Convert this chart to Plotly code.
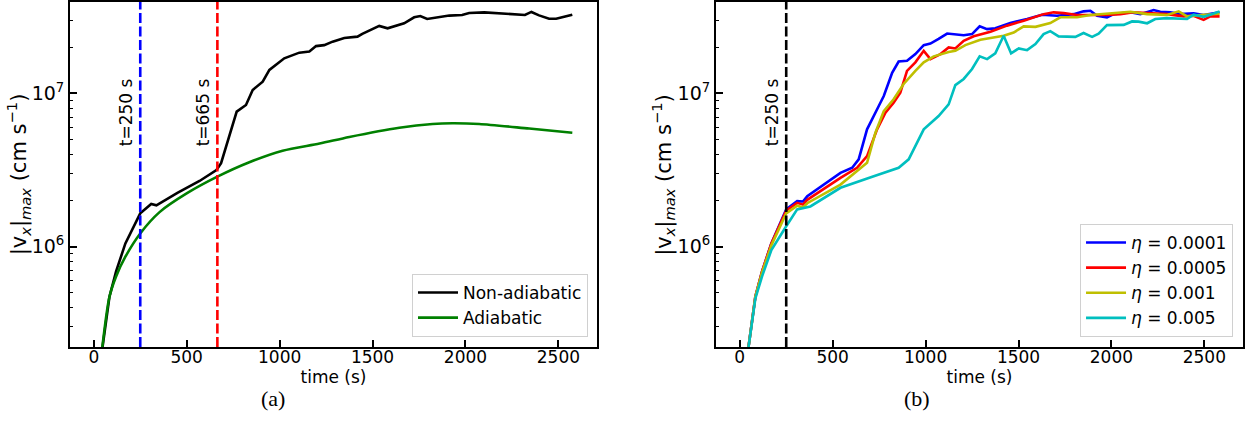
import plotly.graph_objects as go

# ---------------- data ----------------
# Panel (a)
t_nonad = [40, 84, 120, 170, 250, 309, 337, 450, 569, 660, 685, 769, 819, 855, 909, 945,
           1025, 1106, 1160, 1196, 1240, 1285, 1348, 1419, 1445, 1536, 1581, 1670, 1724,
           1757, 1794, 1913, 1982, 2020, 2101, 2181, 2251, 2320, 2355, 2396, 2450, 2488, 2575]
v_nonad = [1.92e5, 4.70e5, 6.9e5, 1.05e6, 1.65e6, 1.90e6, 1.86e6, 2.24e6, 2.68e6, 3.16e6,
           3.50e6, 7.59e6, 8.39e6, 1.05e7, 1.19e7, 1.42e7, 1.69e7, 1.84e7, 1.87e7, 2.03e7,
           2.06e7, 2.17e7, 2.29e7, 2.34e7, 2.44e7, 2.75e7, 2.65e7, 2.86e7, 3.13e7, 3.19e7,
           3.05e7, 3.21e7, 3.24e7, 3.34e7, 3.37e7, 3.32e7, 3.25e7, 3.24e7, 3.39e7, 3.22e7,
           3.06e7, 3.06e7, 3.25e7]

t_adiab = [40, 84, 120, 170, 250, 354, 504, 665, 837, 1016, 1215, 1375, 1644, 1823,
           1930, 2074, 2343, 2575]
v_adiab = [1.92e5, 4.70e5, 6.4e5, 8.6e5, 1.22e6, 1.68e6, 2.24e6, 2.86e6, 3.55e6, 4.22e6,
           4.70e6, 5.19e6, 5.96e6, 6.31e6, 6.38e6, 6.31e6, 5.89e6, 5.53e6]

# Panel (b)
t_eta1 = [40, 84, 120, 170, 250, 309, 340, 363, 542, 605, 640, 685, 748, 775, 820, 855, 900,
          945, 990, 1026, 1070, 1116, 1205, 1250, 1291, 1331, 1375, 1456, 1546, 1627, 1707,
          1797, 1850, 1887, 1923, 1976, 2012, 2102, 2155, 2227, 2263, 2317, 2371, 2442, 2496,
          2532, 2582]
v_eta1 = [1.92e5, 4.73e5, 6.9e5, 1.05e6, 1.75e6, 1.98e6, 1.97e6, 2.13e6, 3.03e6, 3.27e6,
          3.71e6, 5.82e6, 8.26e6, 9.6e6, 1.36e7, 1.61e7, 1.63e7, 1.80e7, 2.06e7, 2.11e7,
          2.26e7, 2.45e7, 2.39e7, 2.43e7, 2.73e7, 2.62e7, 2.65e7, 2.87e7, 3.05e7, 3.25e7,
          3.20e7, 3.28e7, 3.42e7, 3.45e7, 3.20e7, 3.12e7, 3.28e7, 3.37e7, 3.28e7, 3.49e7,
          3.40e7, 3.37e7, 3.28e7, 3.32e7, 3.24e7, 3.30e7, 3.37e7]

t_eta2 = [40, 84, 120, 170, 250, 309, 340, 363, 542, 631, 685, 739, 784, 828, 864, 900, 945,
          990, 1026, 1080, 1124, 1160, 1205, 1259, 1349, 1438, 1528, 1635, 1689, 1743, 1815,
          1887, 1976, 2048, 2119, 2192, 2299, 2388, 2442, 2496, 2532, 2582]
v_eta2 = [1.92e5, 4.73e5, 6.9e5, 1.05e6, 1.72e6, 1.93e6, 1.88e6, 2.02e6, 2.81e6, 3.27e6,
          3.89e6, 5.82e6, 7.48e6, 8.69e6, 1.01e7, 1.40e7, 1.59e7, 1.89e7, 1.67e7, 1.80e7,
          1.99e7, 1.96e7, 2.20e7, 2.35e7, 2.52e7, 2.76e7, 2.97e7, 3.28e7, 3.37e7, 3.33e7,
          3.24e7, 3.24e7, 3.24e7, 3.28e7, 3.37e7, 3.33e7, 3.28e7, 3.17e7, 3.20e7, 3.01e7,
          3.17e7, 3.17e7]

t_eta3 = [40, 84, 120, 170, 250, 309, 340, 363, 542, 640, 685, 730, 775, 828, 882, 945, 990,
          1044, 1124, 1160, 1214, 1295, 1349, 1420, 1474, 1528, 1591, 1671, 1725, 1815, 1887,
          2012, 2102, 2192, 2299, 2362, 2407, 2478, 2582]
v_eta3 = [1.92e5, 4.73e5, 6.8e5, 1.02e6, 1.65e6, 1.85e6, 1.80e6, 1.92e6, 2.54e6, 3.18e6,
          3.52e6, 5.53e6, 7.65e6, 9.14e6, 1.15e7, 1.40e7, 1.59e7, 1.74e7, 1.86e7, 1.89e7,
          2.06e7, 2.23e7, 2.29e7, 2.37e7, 2.49e7, 2.73e7, 2.71e7, 2.87e7, 3.13e7, 3.13e7,
          3.24e7, 3.33e7, 3.40e7, 3.28e7, 3.24e7, 3.42e7, 3.17e7, 3.24e7, 3.30e7]

t_eta4 = [40, 84, 120, 170, 250, 309, 380, 542, 721, 855, 909, 990, 1070, 1124, 1160, 1205,
          1250, 1291, 1331, 1375, 1420, 1460, 1501, 1546, 1591, 1635, 1671, 1716, 1806, 1850,
          1896, 1931, 1976, 2066, 2111, 2146, 2192, 2236, 2299, 2407, 2442, 2496, 2532, 2582]
v_eta4 = [1.92e5, 4.6e5, 6.4e5, 9.5e5, 1.36e6, 1.75e6, 1.83e6, 2.42e6, 2.88e6, 3.27e6,
          3.71e6, 5.82e6, 7.1e6, 8.47e6, 1.13e7, 1.24e7, 1.44e7, 1.74e7, 1.67e7, 1.82e7,
          2.37e7, 1.82e7, 1.96e7, 1.91e7, 2.09e7, 2.43e7, 2.54e7, 2.35e7, 2.33e7, 2.47e7,
          2.33e7, 2.45e7, 2.78e7, 2.79e7, 2.94e7, 2.93e7, 2.86e7, 3.05e7, 3.09e7, 3.05e7,
          3.25e7, 3.15e7, 3.25e7, 3.42e7]

eta_labels = ["<i>η</i> = 0.0001", "<i>η</i> = 0.0005", "<i>η</i> = 0.001", "<i>η</i> = 0.005"]
x_ticks = [0, 500, 1000, 1500, 2000, 2500]
y_ticks = [1e6, 1e7]
y_ticktext = ["10<sup>6</sup>", "10<sup>7</sup>"]
y_minor = [3e5, 4e5, 5e5, 6e5, 7e5, 8e5, 9e5, 2e6, 3e6, 4e6, 5e6, 6e6, 7e6, 8e6, 9e6, 2e7, 3e7]
t_mark_a = [250, 665]
t_mark_b = [250]
y_title = "|v<sub><i>x</i></sub>|<sub><i>max</i></sub> (cm s<sup>−1</sup>)"

# ---------------- figure ----------------
FONT = "DejaVu Sans"
LW = 2.6
fig = go.Figure()

fig.add_trace(go.Scatter(x=t_nonad, y=v_nonad, mode="lines", name="Non-adiabatic",
                         line=dict(color="black", width=LW), xaxis="x", yaxis="y", legend="legend"))
fig.add_trace(go.Scatter(x=t_adiab, y=v_adiab, mode="lines", name="Adiabatic",
                         line=dict(color="#008000", width=LW, shape="spline", smoothing=0.8),
                         xaxis="x", yaxis="y", legend="legend"))

colors_b = ["#0000ff", "#ff0000", "#bfbf00", "#00bfbf"]
series_b = [(t_eta1, v_eta1), (t_eta2, v_eta2), (t_eta3, v_eta3), (t_eta4, v_eta4)]
for (tt, vv), c, lab in zip(series_b, colors_b, eta_labels):
    fig.add_trace(go.Scatter(x=tt, y=vv, mode="lines", name=lab,
                             line=dict(color=c, width=LW), xaxis="x2", yaxis="y2", legend="legend2"))

# vertical dashed markers
for t, c in zip(t_mark_a, ["#0000ff", "#ff0000"]):
    fig.add_shape(type="line", xref="x", yref="y domain", x0=t, x1=t, y0=0, y1=1,
                  line=dict(color=c, width=2.6, dash="10px,3.5px"))
for t in t_mark_b:
    fig.add_shape(type="line", xref="x2", yref="y2 domain", x0=t, x1=t, y0=0, y1=1,
                  line=dict(color="black", width=2.6, dash="10px,3.5px"))

ann_font = dict(family=FONT, size=17, color="black")
for t in t_mark_a:
    fig.add_annotation(x=t, y=6.878, xref="x", yref="y", text=f"t={t} s", textangle=-90,
                       showarrow=False, xanchor="right", yanchor="middle", xshift=-2, font=ann_font)
for t in t_mark_b:
    fig.add_annotation(x=t, y=6.878, xref="x2", yref="y2", text=f"t={t} s", textangle=-90,
                       showarrow=False, xanchor="right", yanchor="middle", xshift=-2, font=ann_font)

# y-axis titles (as annotations for precise placement)
ytitle_font = dict(family=FONT, size=21, color="black")
for xp in [-0.0445, 0.5050]:
    fig.add_annotation(x=xp, y=0.50, xref="paper", yref="paper", text=y_title, textangle=-90,
                       showarrow=False, xanchor="center", yanchor="middle", font=ytitle_font)

# captions
cap_font = dict(family="Liberation Serif", size=22, color="black")
fig.add_annotation(x=0.173, y=-0.148, xref="paper", yref="paper", text="(a)", showarrow=False,
                   xanchor="center", yanchor="middle", font=cap_font)
fig.add_annotation(x=0.722, y=-0.148, xref="paper", yref="paper", text="(b)", showarrow=False,
                   xanchor="center", yanchor="middle", font=cap_font)

tickfont = dict(family=FONT, size=17, color="black")
ytickfont = dict(family=FONT, size=19, color="black")
xcommon = dict(range=[-128, 2708], tickvals=x_ticks, ticks="inside", ticklen=7, tickwidth=1.5,
               tickcolor="black", showline=True, linecolor="black", linewidth=1.8, mirror=True,
               showgrid=False, zeroline=False, tickfont=tickfont, automargin=False,
               ticklabelstandoff=-6,
               title=dict(text="time (s)", font=tickfont, standoff=5))
ycommon = dict(type="log", range=[5.346, 7.595], tickvals=y_ticks, ticktext=y_ticktext,
               ticks="inside", ticklen=7, tickwidth=1.5, tickcolor="black", showline=True,
               linecolor="black", linewidth=1.8, mirror=True, showgrid=False, zeroline=False,
               tickfont=ytickfont, automargin=False,
               minor=dict(tickvals=y_minor, ticks="inside", ticklen=3.5, tickwidth=1,
                          tickcolor="black", showgrid=False))

legend_common = dict(bgcolor="white", bordercolor="#d0d0d0", borderwidth=1,
                     font=dict(family=FONT, size=17, color="black"),
                     xanchor="right", yanchor="bottom", tracegroupgap=0, itemwidth=40)

fig.update_layout(
    width=1256, height=443,
    margin=dict(l=70, r=13, t=2, b=96, autoexpand=False),
    paper_bgcolor="white", plot_bgcolor="white",
    font=dict(family=FONT, size=17, color="black"),
    xaxis=dict(domain=[0, 0.4493], anchor="y", **xcommon),
    yaxis=dict(domain=[0, 1], anchor="x", **ycommon),
    xaxis2=dict(domain=[0.5507, 1], anchor="y2", **xcommon),
    yaxis2=dict(domain=[0, 1], anchor="x2", **ycommon),
    legend=dict(x=0.4416, y=0.029, **legend_common),
    legend2=dict(x=0.9915, y=0.029, **legend_common),
)

fig.write_html("out.html", config={"displayModeBar": False},
               post_script="document.body.style.margin='0';document.body.style.overflow='hidden';")
